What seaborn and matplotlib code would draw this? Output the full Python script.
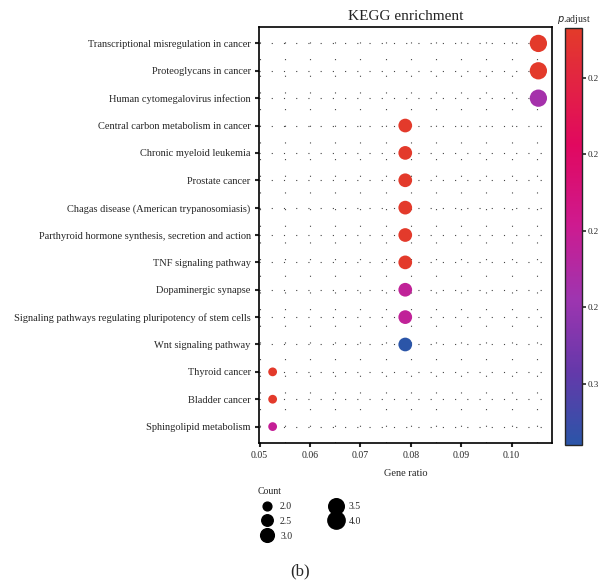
import numpy as np
import pandas as pd
import matplotlib
matplotlib.use("Agg")
import matplotlib.pyplot as plt
from matplotlib.colors import LinearSegmentedColormap, Normalize
from matplotlib.lines import Line2D
import seaborn as sns

pathways = [
    "Transcriptional misregulation in cancer",
    "Proteoglycans in cancer",
    "Human cytomegalovirus infection",
    "Central carbon metabolism in cancer",
    "Chronic myeloid leukemia",
    "Prostate cancer",
    "Chagas disease (American trypanosomiasis)",
    "Parthyroid hormone synthesis, secretion and action",
    "TNF signaling pathway",
    "Dopaminergic synapse",
    "Signaling pathways regulating pluripotency of stem cells",
    "Wnt signaling pathway",
    "Thyroid cancer",
    "Bladder cancer",
    "Sphingolipid metabolism",
]
gene_ratio = [0.1053, 0.1053, 0.1053, 0.0789, 0.0789, 0.0789, 0.0789, 0.0789,
              0.0789, 0.0789, 0.0789, 0.0789, 0.0526, 0.0526, 0.0526]
counts = [4, 4, 4, 3, 3, 3, 3, 3, 3, 3, 3, 3, 2, 2, 2]
p_adjust = [0.2040, 0.2040, 0.2375, 0.2040, 0.2040, 0.2040, 0.2040, 0.2040,
            0.2040, 0.2320, 0.2320, 0.2580, 0.2040, 0.2040, 0.2310]
legend_counts = [2.0, 2.5, 3.0, 3.5, 4.0]
cbar_ticks = [0.21, 0.22, 0.23, 0.24, 0.25]
cbar_labels = ["0.2", "0.2", "0.2", "0.2", "0.3"]
x_ticks = [0.05, 0.06, 0.07, 0.08, 0.09, 0.10]

df = pd.DataFrame({"Pathway": pathways, "GeneRatio": gene_ratio,
                   "Count": counts, "p.adjust": p_adjust})

sns.set_style("white")
plt.rcParams["font.family"] = ["Liberation Serif", "DejaVu Serif"]

cmap = LinearSegmentedColormap.from_list("padj", [
    (0.0, "#E33B2A"), (0.28, "#E1085F"), (0.47, "#CE1A8F"),
    (0.65, "#9E35B0"), (0.82, "#6638AA"), (1.0, "#2B55A8")])
vmin, vmax = 0.2035, 0.258
norm = Normalize(vmin, vmax)

smin, smax = 40, 155
cmin, cmax = 2.0, 4.0
def size_of(c):
    return smin + (c - cmin) / (cmax - cmin) * (smax - smin)

fig = plt.figure(figsize=(6, 5.82), dpi=100)
ax = fig.add_axes([0.4317, 0.2388, 0.4883, 0.7148])

ypos = {p: i for i, p in enumerate(pathways)}
df["y"] = df["Pathway"].map(ypos)

ax.set_xlim(0.0499, 0.108)
ax.set_ylim(14.6, -0.6)
ax.set_xticks(x_ticks)
ax.set_xticks([0.055, 0.065, 0.075, 0.085, 0.095, 0.105], minor=True)
ax.set_yticks(range(len(pathways)))
ax.set_yticklabels(pathways)
ax.grid(True, which="both", axis="x", color="#444444", linestyle=(0, (1, 14)), linewidth=0.8)
ax.grid(True, which="major", axis="y", color="#444444", linestyle=(0, (1, 10)), linewidth=0.8)
ax.set_axisbelow(True)

sns.scatterplot(data=df, x="GeneRatio", y="y", hue="p.adjust", size="Count",
                palette=cmap, hue_norm=norm, sizes=(smin, smax), size_norm=(cmin, cmax),
                legend=False, linewidth=0, ax=ax, zorder=3)

ax.set_ylim(14.6, -0.6)
ax.set_xticklabels([f"{t:.2f}" for t in x_ticks], fontsize=7)
ax.tick_params(axis="y", labelsize=7.5, length=3, width=1.5, pad=3, left=True)
ax.tick_params(axis="x", which="major", length=3, width=1.5, pad=3, bottom=True)
ax.tick_params(axis="x", which="minor", length=0)
ax.set_xlabel("Gene ratio", fontsize=7.5, labelpad=6)
ax.set_ylabel("")
ax.set_title("KEGG enrichment", fontsize=11, pad=5, color="#222222")
for s in ax.spines.values():
    s.set_visible(True)
    s.set_color("black")
    s.set_linewidth(1.2)

cax = fig.add_axes([0.9417, 0.2354, 0.0283, 0.7165])
sm = matplotlib.cm.ScalarMappable(norm=norm, cmap=cmap)
cb = fig.colorbar(sm, cax=cax)
cb.ax.invert_yaxis()
cb.set_ticks(cbar_ticks)
cb.set_ticklabels(cbar_labels)
cb.ax.tick_params(labelsize=6.5, length=3, width=1.2, pad=1)
cb.outline.set_linewidth(1.0)
cax.text(0.5, 1.005, "$p$.adjust", transform=cax.transAxes, ha="center", va="bottom",
         fontsize=7)

handles = [Line2D([], [], linestyle="none", marker="o", color="black",
                  markersize=np.sqrt(size_of(c)), label=f"{c:.1f}") for c in legend_counts]
leg = fig.legend(handles=handles, title="Count", ncol=2, loc="upper left",
                 bbox_to_anchor=(0.415, 0.178), frameon=False, fontsize=7,
                 title_fontsize=7, handletextpad=0.3, labelspacing=0.6,
                 columnspacing=3.5, alignment="left")

fig.text(0.5, 0.005, "(b)", ha="center", va="bottom", fontsize=12)

fig.savefig("out.png", dpi=100)
